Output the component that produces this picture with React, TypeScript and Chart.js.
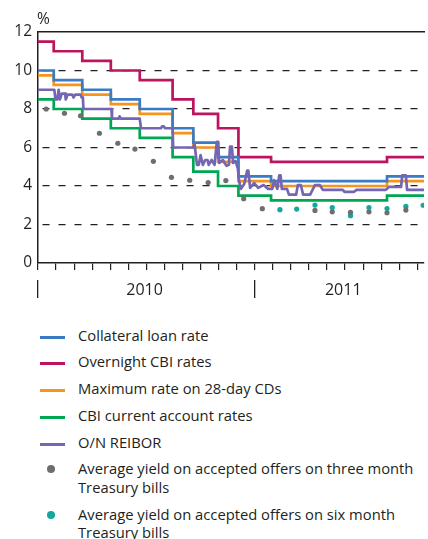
import React, { useEffect, useRef } from 'react';
import { Chart, registerables } from 'chart.js';

Chart.register(...registerables);

// ---------- data ----------
const seriesNames = [
  'Collateral loan rate',
  'Overnight CBI rates',
  'Maximum rate on 28-day CDs',
  'CBI current account rates',
  'O/N REIBOR',
  'Average yield on accepted offers on three month\nTreasury bills',
  'Average yield on accepted offers on six month\nTreasury bills',
];

const seriesColors = ['#3a7bc4', '#bd1460', '#f7941d', '#00a651', '#7466b2', '#6d6e71', '#12a89e'];

// Central bank rate decision dates (effective) and the rates in force from each date
const rateChangeDates = [
  '2010-01-01', '2010-01-28', '2010-03-15', '2010-05-02', '2010-06-20', '2010-08-15',
  '2010-09-19', '2010-10-31', '2010-12-04', '2011-01-29', '2011-08-11', '2011-10-31',
];
const collateralLoanRate = [10.0, 9.5, 9.0, 8.5, 8.0, 7.0, 6.25, 5.5, 4.5, 4.25, 4.5, 4.5];
const overnightRate = [11.5, 11.0, 10.5, 10.0, 9.5, 8.5, 7.75, 7.0, 5.5, 5.25, 5.5, 5.5];
const maxCdRate = [9.75, 9.25, 8.75, 8.25, 7.75, 6.75, 6.0, 5.25, 4.25, 4.0, 4.25, 4.25];
const currentAccountRate = [8.5, 8.0, 7.5, 7.0, 6.5, 5.5, 4.75, 4.0, 3.5, 3.25, 3.5, 3.5];

// O/N REIBOR
const reiborDates = [
  '2010-01-01', '2010-01-29', '2010-01-31', '2010-02-03', '2010-02-05', '2010-02-07', '2010-02-10',
  '2010-02-15', '2010-02-16', '2010-02-19', '2010-02-26', '2010-02-28', '2010-03-03', '2010-03-12',
  '2010-03-14', '2010-03-16', '2010-03-17', '2010-05-03', '2010-05-04', '2010-05-16', '2010-05-17',
  '2010-05-19', '2010-06-20', '2010-06-22', '2010-07-26', '2010-07-28', '2010-07-31', '2010-08-02',
  '2010-08-15', '2010-08-16', '2010-09-19', '2010-09-21', '2010-09-25', '2010-09-28', '2010-10-01',
  '2010-10-05', '2010-10-09', '2010-10-13', '2010-10-15', '2010-10-20', '2010-10-25', '2010-10-29',
  '2010-10-31', '2010-11-02', '2010-11-08', '2010-11-14', '2010-11-18', '2010-11-20', '2010-11-23',
  '2010-11-25', '2010-11-29', '2010-12-03', '2010-12-05', '2010-12-08', '2010-12-14', '2010-12-19',
  '2010-12-21', '2010-12-24', '2010-12-31', '2011-01-07', '2011-01-16', '2011-01-24', '2011-01-31',
  '2011-02-03', '2011-02-08', '2011-02-11', '2011-02-13', '2011-02-15', '2011-02-23', '2011-02-26',
  '2011-03-10', '2011-03-13', '2011-03-18', '2011-03-22', '2011-04-03', '2011-04-11', '2011-04-19',
  '2011-04-24', '2011-05-28', '2011-05-31', '2011-06-16', '2011-06-20', '2011-08-09', '2011-08-14',
  '2011-09-04', '2011-09-06', '2011-09-12', '2011-09-14', '2011-10-17',
];
const reiborValues = [
  9.0, 9.0, 8.5, 8.5, 9.0, 8.5, 8.8,
  8.8, 8.5, 8.75, 8.75, 8.6, 8.75, 8.75,
  8.6, 8.6, 8.0, 8.0, 7.5, 7.5, 7.62,
  7.5, 7.5, 7.0, 7.0, 7.1, 7.1, 7.0,
  7.0, 6.0, 6.0, 6.2, 5.1, 5.1, 5.6,
  5.1, 5.35, 5.35, 5.1, 5.35, 5.1, 6.3,
  6.3, 5.2, 5.35, 5.05, 5.1, 6.05, 6.05,
  5.2, 5.3, 4.9, 4.3, 3.85, 4.1, 4.8,
  4.8, 3.9, 4.15, 3.9, 4.05, 3.85, 3.85,
  4.3, 3.85, 4.55, 4.55, 3.85, 3.85, 3.55,
  3.55, 4.05, 4.05, 3.55, 3.55, 4.05, 4.05,
  3.8, 3.8, 3.7, 3.7, 3.8, 3.8, 3.95,
  3.95, 4.55, 4.55, 3.8, 3.8,
];

// Treasury bill auctions
const auctionDates = [
  '2010-01-15', '2010-02-14', '2010-03-12', '2010-04-13', '2010-05-14', '2010-06-12',
  '2010-07-13', '2010-08-13', '2010-09-13', '2010-10-14', '2010-11-13', '2010-12-13',
  '2011-01-14', '2011-02-12', '2011-03-11', '2011-04-11', '2011-05-10', '2011-06-10',
  '2011-07-11', '2011-08-11', '2011-09-12', '2011-10-11',
];
const tBill3m = [
  8.0, 7.78, 7.65, 6.74, 6.22, 5.92, 5.28, 4.45, 4.3, 4.18, 4.28, 3.34,
  2.82, null, null, 2.73, 2.66, 2.63, 2.66, 2.61, 2.75, null,
];
const tBill6m = [
  null, null, null, null, null, null, null, null, null, null, null, null,
  null, 2.77, 2.8, 3.01, 2.88, 2.46, 2.88, 2.83, 2.94, 3.0,
];

const yearLabels = ['2010', '2011'];
const yTickValues = [0, 2, 4, 6, 8, 10, 12];

// ---------- helpers ----------
const toMonths = (s: string) => {
  const [y, m, d] = s.split('-').map(Number);
  const dim = new Date(y, m, 0).getDate();
  return (y - 2010) * 12 + (m - 1) + (d - 1) / dim;
};
const pts = (dates: string[], vals: (number | null)[]) =>
  dates.map((d, i) => ({ x: toMonths(d), y: vals[i] })).filter((p) => p.y !== null);

const FONT = '"Open Sans", "DejaVu Sans", sans-serif';
const INK = '#231f20';

export default function App() {
  const ref = useRef<HTMLCanvasElement>(null);

  useEffect(() => {
    const canvas = ref.current;
    if (!canvas) return;
    const xMax = 21.37;
    const monthTicks = Array.from({ length: 22 }, (_, i) => i);
    const yearTickPos = [0, 5.9, 12, 16.9];
    const yearTickText = ['', yearLabels[0], '', yearLabels[1]];

    const stepLine = (i: number, vals: number[], order: number) => ({
      label: seriesNames[i],
      data: pts(rateChangeDates, vals),
      borderColor: seriesColors[i],
      backgroundColor: seriesColors[i],
      borderWidth: 2.7,
      stepped: true,
      pointRadius: 0,
      fill: false,
      order,
      borderJoinStyle: 'miter',
      borderCapStyle: 'butt',
    });

    const chart = new Chart(canvas, {
      type: 'line',
      data: {
        datasets: [
          stepLine(0, collateralLoanRate, 3),
          stepLine(1, overnightRate, 6),
          stepLine(2, maxCdRate, 4),
          stepLine(3, currentAccountRate, 5),
          {
            label: seriesNames[4],
            data: pts(reiborDates, reiborValues),
            borderColor: seriesColors[4],
            backgroundColor: seriesColors[4],
            borderWidth: 2.7,
            pointRadius: 0,
            tension: 0,
            fill: false,
            order: 0,
            borderJoinStyle: 'round',
          },
          {
            label: seriesNames[5],
            data: pts(auctionDates, tBill3m),
            showLine: false,
            pointRadius: 2.6,
            pointBorderWidth: 0,
            pointBackgroundColor: seriesColors[5],
            borderColor: seriesColors[5],
            backgroundColor: seriesColors[5],
            order: 1,
          },
          {
            label: seriesNames[6],
            data: pts(auctionDates, tBill6m),
            showLine: false,
            pointRadius: 2.6,
            pointBorderWidth: 0,
            pointBackgroundColor: seriesColors[6],
            borderColor: seriesColors[6],
            backgroundColor: seriesColors[6],
            order: 2,
          },
        ] as any,
      },
      options: {
        responsive: false,
        animation: false,
        devicePixelRatio: 1,
        events: [],
        layout: { padding: { top: 32, left: 0, right: 0, bottom: 0 } },
        plugins: { legend: { display: false }, tooltip: { enabled: false }, title: { display: false } },
        scales: {
          x: {
            type: 'linear',
            position: 'bottom',
            min: 0,
            max: xMax,
            weight: 0,
            afterBuildTicks: (s: any) => {
              s.ticks = monthTicks.map((v) => ({ value: v }));
            },
            afterFit: (s: any) => {
              s.height = 17;
            },
            ticks: { display: false },
            grid: { drawOnChartArea: false, drawTicks: true, tickLength: 7, color: INK, lineWidth: 1.2 },
            border: { display: true, color: INK, width: 1.5 },
          },
          xYear: {
            type: 'linear',
            position: 'bottom',
            min: 0,
            max: xMax,
            weight: 1,
            afterBuildTicks: (s: any) => {
              s.ticks = yearTickPos.map((v) => ({ value: v }));
            },
            afterFit: (s: any) => {
              s.height = 25;
            },
            ticks: {
              autoSkip: false,
              maxRotation: 0,
              padding: -17,
              color: INK,
              font: { family: FONT, size: 16 },
              callback: (v: any) => {
                const i = yearTickPos.indexOf(Number(v));
                return i >= 0 ? yearTickText[i] : '';
              },
            },
            grid: {
              drawOnChartArea: false,
              drawTicks: true,
              tickLength: 18,
              lineWidth: 1.3,
              color: (c: any) => (c.tick && (c.tick.value === 0 || c.tick.value === 12) ? INK : 'rgba(0,0,0,0)'),
            },
            border: { display: false },
          },
          xTop: {
            type: 'linear',
            position: 'top',
            min: 0,
            max: xMax,
            afterFit: (s: any) => {
              s.height = 0;
            },
            ticks: { display: false },
            grid: { display: false, drawTicks: false },
            border: { display: true, color: INK, width: 1.5 },
          },
          y: {
            type: 'linear',
            position: 'left',
            min: 0,
            max: 12,
            afterBuildTicks: (s: any) => {
              s.ticks = yTickValues.map((v) => ({ value: v }));
            },
            afterFit: (s: any) => {
              s.width = 38;
            },
            ticks: { padding: 6, color: INK, font: { family: FONT, size: 15.5 } },
            grid: {
              drawTicks: false,
              lineWidth: 1.2,
              color: (c: any) =>
                c.tick && (c.tick.value === 0 || c.tick.value === 12) ? 'rgba(0,0,0,0)' : INK,
            },
            border: { display: true, color: INK, width: 1.5, dash: [7, 9], dashOffset: 12 },
          },
        },
      } as any,
    });
    return () => chart.destroy();
  }, []);

  return (
    <div
      style={{
        position: 'absolute',
        left: 0,
        top: 0,
        width: 428,
        height: 539,
        overflow: 'hidden',
        background: '#fff',
        fontFamily: FONT,
        color: INK,
      }}
    >
      <canvas ref={ref} width={428} height={305} style={{ position: 'absolute', left: 0, top: 0, width: 428, height: 305 }} />
      <div style={{ position: 'absolute', left: 37, top: 11, fontSize: 15.5, lineHeight: 1 }}>%</div>
      <div style={{ position: 'absolute', left: 0, top: 325.5, width: 428 }}>
        {seriesNames.map((name, i) => (
          <div
            key={name}
            style={{
              position: 'relative',
              paddingLeft: 78,
              fontSize: 14.75,
              lineHeight: '18.3px',
              marginBottom: 8.5,
              whiteSpace: 'pre-line',
            }}
          >
            {i < 5 ? (
              <span
                style={{ position: 'absolute', left: 40, top: 10, width: 25, height: 3, background: seriesColors[i] }}
              />
            ) : (
              <span
                style={{
                  position: 'absolute',
                  left: 47,
                  top: 6,
                  width: 8,
                  height: 8,
                  borderRadius: '50%',
                  background: seriesColors[i],
                }}
              />
            )}
            {name}
          </div>
        ))}
      </div>
    </div>
  );
}
